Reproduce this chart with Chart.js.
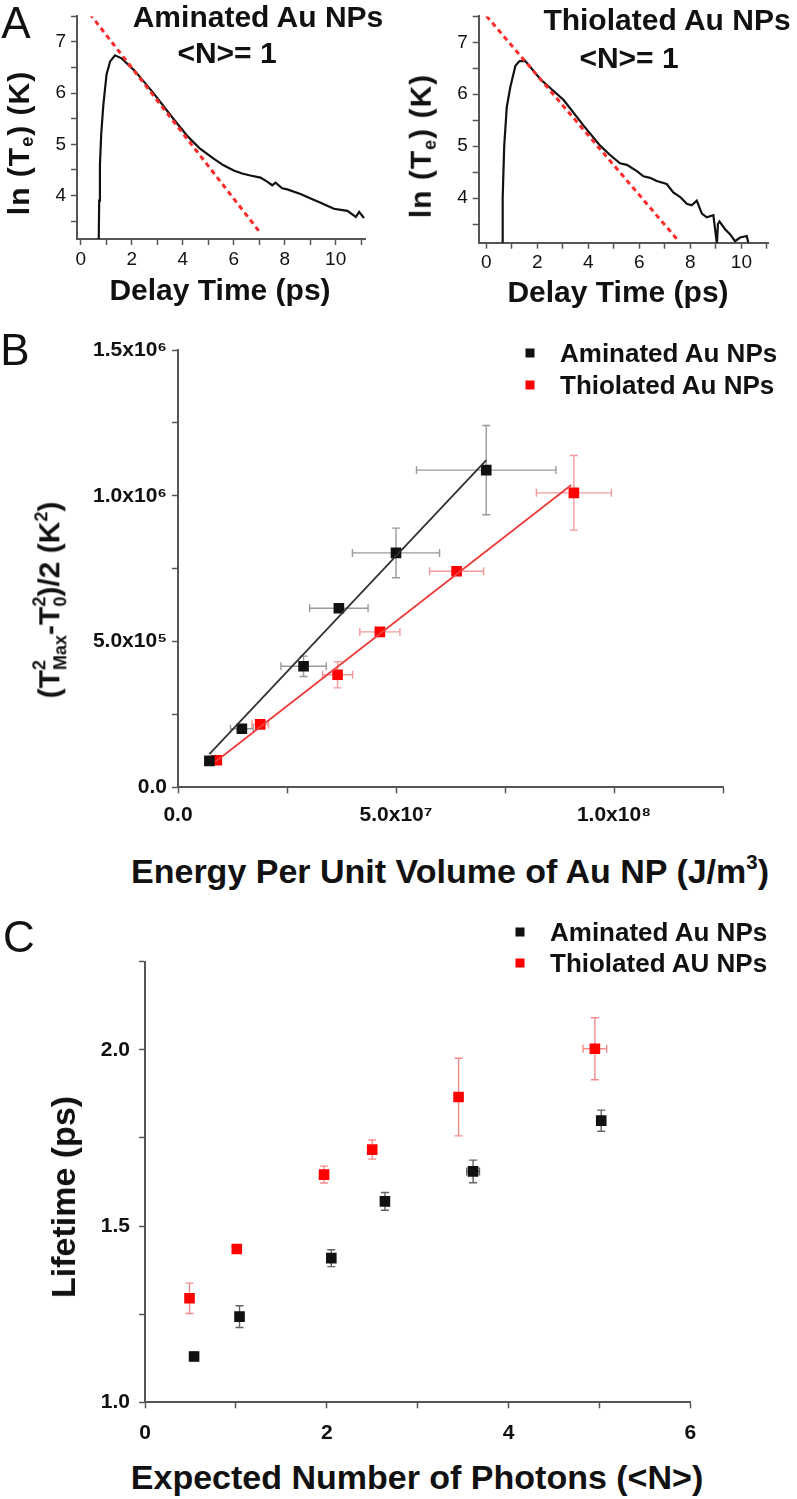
<!DOCTYPE html>
<html>
<head>
<meta charset="utf-8">
<script src="https://cdn.jsdelivr.net/npm/chart.js@4.4.1/dist/chart.umd.min.js"></script>
<style>
  body { margin: 0; background: #fff; }
  #fig { position: relative; width: 797px; height: 1499px; overflow: hidden;
         font-family: "Liberation Sans", Arial, sans-serif; color: #111; }
  canvas { position: absolute; }
  .t { position: absolute; white-space: nowrap; line-height: 1; font-weight: bold;
       transform: translate(-50%, -50%); }
  .rot { transform: translate(-50%, -50%) rotate(-90deg); }
  .lab { font-weight: normal; font-size: 44px; }
  .leg { position: absolute; white-space: nowrap; line-height: 1; font-weight: bold;
         font-size: 26px; transform: translate(0, -50%); }
  .sq { position: absolute; width: 9px; height: 9px; transform: translate(-50%, -50%); }
  .ss { display: inline-flex; flex-direction: column; font-size: .6em; line-height: 1.15;
        vertical-align: .8em; }
  sub { font-size: .6em; vertical-align: -.25em; }
  sup { font-size: .6em; vertical-align: .7em; }
</style>
</head>
<body>
<div id="fig">
  <canvas id="aLeft" width="390" height="275" style="left:0;top:0"></canvas>
  <canvas id="aRight" width="400" height="275" style="left:397px;top:0"></canvas>
  <canvas id="bChart" width="797" height="520" style="left:0;top:330px"></canvas>
  <canvas id="cChart" width="797" height="500" style="left:0;top:940px"></canvas>

  <div class="t lab" style="left:16px;top:23px">A</div>
  <div class="t lab" style="left:15px;top:350px">B</div>
  <div class="t lab" style="left:19px;top:937px">C</div>

  <div class="t" style="left:258px;top:17px;font-size:30px">Aminated Au NPs</div>
  <div class="t" style="left:227px;top:53px;font-size:30px">&lt;N&gt;= 1</div>
  <div class="t" style="left:667px;top:20px;font-size:30px">Thiolated Au NPs</div>
  <div class="t" style="left:629px;top:58px;font-size:30px">&lt;N&gt;= 1</div>

  <div class="t rot" style="left:20px;top:143px;font-size:30px;letter-spacing:1px">ln (T<sub>e</sub>) (K)</div>
  <div class="t rot" style="left:422px;top:146px;font-size:30px;letter-spacing:1px">ln (T<sub>e</sub>) (K)</div>
  <div class="t" style="left:220px;top:290px;font-size:30px">Delay Time (ps)</div>
  <div class="t" style="left:618px;top:292px;font-size:30px">Delay Time (ps)</div>

  <div class="t rot" style="left:50px;top:600px;font-size:30px">(T<span class="ss"><span>2</span><span>Max</span></span>-T<span class="ss"><span>2</span><span>0</span></span>)/2 (K<sup>2</sup>)</div>
  <div class="t" style="left:450px;top:870px;font-size:34px">Energy Per Unit Volume of Au NP (J/m<sup>3</sup>)</div>
  <div class="sq" style="left:530px;top:353px;background:#111"></div>
  <div class="leg" style="left:560px;top:353px">Aminated Au NPs</div>
  <div class="sq" style="left:530px;top:385px;background:#f00"></div>
  <div class="leg" style="left:560px;top:385px">Thiolated Au NPs</div>

  <div class="t rot" style="left:63px;top:1197px;font-size:34px">Lifetime (ps)</div>
  <div class="t" style="left:417px;top:1477px;font-size:34px">Expected Number of Photons (&lt;N&gt;)</div>
  <div class="sq" style="left:520px;top:932px;background:#111"></div>
  <div class="leg" style="left:550px;top:932px">Aminated Au NPs</div>
  <div class="sq" style="left:520px;top:963px;background:#f00"></div>
  <div class="leg" style="left:550px;top:963px">Thiolated AU NPs</div>
</div>

<script>
// ---- Panel A, aminated: ln(Te) vs delay time (ps)
const aminDelay = [0.70, 0.72, 0.75, 0.80, 0.88, 1.01, 1.15, 1.34, 1.6, 2.13, 2.85, 3.63, 4.2, 4.69,
  5.21, 5.6, 6.0, 6.33, 6.65, 7.05, 7.31, 7.51, 7.64, 7.9, 8.1, 8.62, 9.02, 9.41, 9.67, 9.93, 10.2,
  10.46, 10.79, 10.92, 11.11];
const aminLnT = [3.0, 3.9, 4.6, 5.2, 5.75, 6.37, 6.62, 6.74, 6.68, 6.43, 6.0, 5.5, 5.15, 4.91,
  4.72, 4.59, 4.49, 4.43, 4.39, 4.35, 4.27, 4.2, 4.25, 4.14, 4.12, 4.03, 3.94, 3.86, 3.8, 3.74, 3.72,
  3.7, 3.58, 3.68, 3.56];
const aminFitDelay = [0.35, 7.06];
const aminFitLnT = [7.55, 3.26];

// ---- Panel A, thiolated
const thioDelay = [0.62, 0.64, 0.70, 0.80, 0.94, 1.14, 1.3, 1.53, 2.12, 3.03, 3.82, 4.46, 4.85, 5.24,
  5.51, 5.9, 6.16, 6.42, 6.68, 7.07, 7.33, 7.6, 7.86, 8.05, 8.25, 8.45, 8.64, 8.9, 9.04, 9.08, 9.14,
  9.36, 9.56, 9.75, 9.95, 10.21, 10.27];
const thioLnT = [3.0, 4.0, 5.0, 5.75, 6.14, 6.55, 6.64, 6.64, 6.29, 5.89, 5.39, 5.01, 4.83, 4.67,
  4.64, 4.52, 4.42, 4.39, 4.33, 4.27, 4.11, 4.02, 3.89, 3.86, 3.95, 3.7, 3.63, 3.67, 3.12, 3.5, 3.55,
  3.4, 3.3, 3.17, 3.24, 3.27, 3.14];
const thioFitDelay = [0, 7.54];
const thioFitLnT = [7.51, 3.17];

// ---- Panel B: (Tmax^2 - T0^2)/2 vs energy per unit volume
const energyAmin = [7.2e6, 1.465e7, 2.88e7, 3.69e7, 5.0e7, 7.07e7];
const energyAminErr = [1.0e6, 2.6e6, 5.2e6, 6.7e6, 1.0e7, 1.6e7];
const heatAmin = [9.07e4, 2.01e5, 4.15e5, 6.14e5, 8.04e5, 1.088e6];
const heatAminErr = [1.2e4, 1.0e4, 3.5e4, 1.2e4, 8.5e4, 1.53e5];
const energyThio = [8.9e6, 1.886e7, 3.66e7, 4.63e7, 6.39e7, 9.08e7];
const energyThioErr = [1.0e6, 1.9e6, 3.45e6, 4.6e6, 6.2e6, 8.6e6];
const heatThio = [9.3e4, 2.16e5, 3.86e5, 5.33e5, 7.41e5, 1.01e6];
const heatThioErr = [8e3, 8e3, 4.5e4, 8e3, 8e3, 1.28e5];
const aminLineEnergy = [7.2e6, 7.07e7];
const aminLineHeat = [1.14e5, 1.122e6];
const thioLineEnergy = [8.5e6, 9.02e7];
const thioLineHeat = [8.7e4, 1.037e6];
const bYTicks = [0, 5e5, 1e6, 1.5e6];
const bYTickLabels = ["0.0", "5.0x10\u2075", "1.0x10\u2076", "1.5x10\u2076"];
const bXTicks = [0, 5e7, 1e8];
const bXTickLabels = ["0.0", "5.0x10\u2077", "1.0x10\u2078"];

// ---- Panel C: lifetime vs expected photons
const photonsAmin = [0.54, 1.04, 2.05, 2.64, 3.61, 5.02];
const photonsAminErr = [0, 0, 0, 0, 0.07, 0];
const lifetimeAmin = [1.13, 1.243, 1.409, 1.57, 1.655, 1.799];
const lifetimeAminErr = [0.012, 0.031, 0.024, 0.025, 0.032, 0.03];
const photonsThio = [0.49, 1.01, 1.97, 2.50, 3.45, 4.95];
const photonsThioErr = [0, 0, 0, 0, 0, 0.13];
const lifetimeThio = [1.295, 1.435, 1.646, 1.717, 1.866, 2.003];
const lifetimeThioErr = [0.043, 0.012, 0.024, 0.027, 0.11, 0.088];

const FONT = "'Liberation Sans', Arial, sans-serif";
const AXIS = "#555";

function pts(xs, ys) {
  return xs.map((x, i) => ({ x, y: ys[i] }));
}

function findLabel(v, ticks, labels) {
  const i = ticks.findIndex((t) => Math.abs(t - v) < 1);
  return i >= 0 ? labels[i] : "";
}

// error bars drawn through the chart's own scales
const errorBars = {
  id: "errorBars",
  beforeDatasetsDraw(chart) {
    const { ctx, scales: { x, y } } = chart;
    chart.data.datasets.forEach((ds) => {
      if (!ds.errX && !ds.errY) return;
      ctx.save();
      ctx.strokeStyle = ds.errColor;
      ctx.lineWidth = 1.4;
      const cap = ds.capSize || 4;
      ds.data.forEach((p, j) => {
        const px = x.getPixelForValue(p.x);
        const py = y.getPixelForValue(p.y);
        const ey = ds.errY ? ds.errY[j] : 0;
        const ex = ds.errX ? ds.errX[j] : 0;
        ctx.beginPath();
        if (ey) {
          const y1 = y.getPixelForValue(p.y - ey);
          const y2 = y.getPixelForValue(p.y + ey);
          ctx.moveTo(px, y1); ctx.lineTo(px, y2);
          ctx.moveTo(px - cap, y1); ctx.lineTo(px + cap, y1);
          ctx.moveTo(px - cap, y2); ctx.lineTo(px + cap, y2);
        }
        if (ex) {
          const x1 = x.getPixelForValue(p.x - ex);
          const x2 = x.getPixelForValue(p.x + ex);
          ctx.moveTo(x1, py); ctx.lineTo(x2, py);
          ctx.moveTo(x1, py - cap); ctx.lineTo(x1, py + cap);
          ctx.moveTo(x2, py - cap); ctx.lineTo(x2, py + cap);
        }
        ctx.stroke();
      });
      ctx.restore();
    });
  },
};

function scale(o) {
  return {
    type: "linear",
    min: o.min,
    max: o.max,
    border: { color: AXIS, width: 2 },
    grid: { drawOnChartArea: false, drawTicks: true, tickLength: 6, tickColor: AXIS, tickWidth: 1.5 },
    ticks: {
      stepSize: o.step,
      autoSkip: false,
      includeBounds: false,
      maxRotation: 0,
      padding: o.pad,
      color: "#111",
      font: { family: FONT, size: o.size, weight: o.weight },
      callback: o.label,
    },
    afterFit: (s) => {
      if (o.width != null) s.width = o.width;
      if (o.height != null) s.height = o.height;
    },
  };
}

function build(id, box, area, datasets, xs, ys) {
  xs.height = box.h - area.b;
  ys.width = area.l;
  return new Chart(document.getElementById(id), {
    type: "scatter",
    data: { datasets },
    options: {
      responsive: false,
      animation: false,
      layout: { padding: { left: 0, top: area.t, right: box.w - area.r, bottom: 0 } },
      plugins: { legend: { display: false }, tooltip: { enabled: false } },
      scales: { x: scale(xs), y: scale(ys) },
    },
    plugins: [errorBars],
  });
}

function curveSet(xs, ys) {
  return { data: pts(xs, ys), showLine: true, borderColor: "#111", borderWidth: 2.2,
           pointRadius: 0, tension: 0 };
}
function fitSet(xs, ys, color, dash) {
  return { data: pts(xs, ys), showLine: true, borderColor: color, borderWidth: dash ? 3 : 1.8,
           borderDash: dash ? [5, 4] : [], pointRadius: 0 };
}
function markSet(xs, ys, ex, ey, color, errColor) {
  return { data: pts(xs, ys), showLine: false, pointStyle: "rect", pointRadius: 7.5,
           backgroundColor: color, borderWidth: 0, errX: ex, errY: ey, errColor };
}

const aX = (v) => (v % 2 === 0 && v <= 10 ? String(v) : "");
const aY = (v) => (Number.isInteger(v) && v >= 4 && v <= 7 ? String(v) : "");

build("aLeft", { w: 390, h: 275 }, { l: 77, t: 5, r: 365, b: 239 },
  [fitSet(aminFitDelay, aminFitLnT, "#ff2a2a", true), curveSet(aminDelay, aminLnT)],
  { min: -0.15, max: 11.15, step: 1, pad: 3, size: 19, weight: "normal", label: aX },
  { min: 3.15, max: 7.5, step: 0.5, pad: 5, size: 19, weight: "normal", label: aY });

build("aRight", { w: 400, h: 275 }, { l: 81.7, t: 10, r: 371.7, b: 242.7 },
  [fitSet(thioFitDelay, thioFitLnT, "#ff2a2a", true), curveSet(thioDelay, thioLnT)],
  { min: -0.3, max: 11.07, step: 1, pad: 3, size: 19, weight: "normal", label: aX },
  { min: 3.14, max: 7.5, step: 0.5, pad: 5, size: 19, weight: "normal", label: aY });

build("bChart", { w: 797, h: 520 }, { l: 178, t: 20, r: 723, b: 457.3 },
  [
    fitSet(aminLineEnergy, aminLineHeat, "#333", false),
    fitSet(thioLineEnergy, thioLineHeat, "#f03c3c", false),
    markSet(energyAmin, heatAmin, energyAminErr, heatAminErr, "#111", "rgba(120,120,120,0.75)"),
    markSet(energyThio, heatThio, energyThioErr, heatThioErr, "#f00", "rgba(240,110,110,0.7)"),
  ],
  { min: 0, max: 1.25e8, step: 2.5e7, pad: 9, size: 21, weight: "bold",
    label: (v) => findLabel(v, bXTicks, bXTickLabels) },
  { min: 0, max: 1.5e6, step: 2.5e5, pad: 5, size: 21, weight: "bold",
    label: (v) => findLabel(v, bYTicks, bYTickLabels) });

build("cChart", { w: 797, h: 500 }, { l: 145, t: 21.7, r: 690.3, b: 462.3 },
  [
    markSet(photonsAmin, lifetimeAmin, photonsAminErr, lifetimeAminErr, "#111", "rgba(60,60,60,0.8)"),
    markSet(photonsThio, lifetimeThio, photonsThioErr, lifetimeThioErr, "#f00", "rgba(240,100,100,0.75)"),
  ],
  { min: 0, max: 6, step: 1, pad: 12, size: 21, weight: "bold",
    label: (v) => (v % 2 === 0 ? String(v) : "") },
  { min: 1.0, max: 2.25, step: 0.25, pad: 9, size: 21, weight: "bold",
    label: (v) => (Math.abs(v * 2 - Math.round(v * 2)) < 1e-6 && v < 2.2 ? v.toFixed(1) : "") });
</script>
</body>
</html>
